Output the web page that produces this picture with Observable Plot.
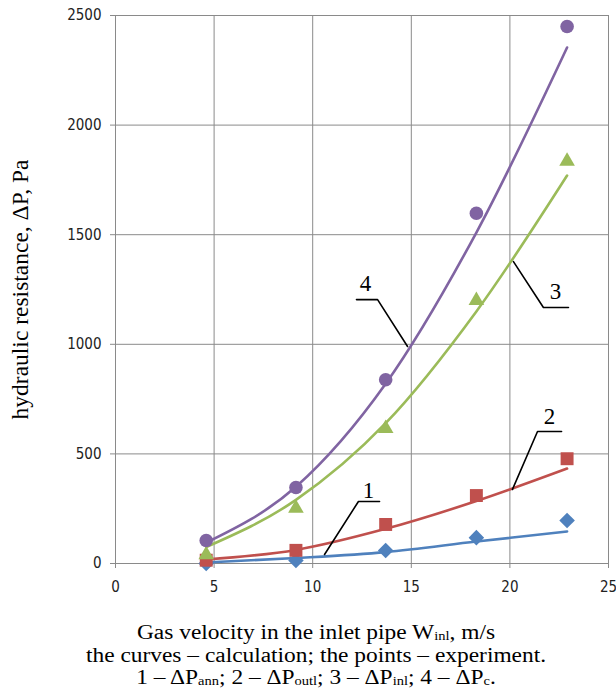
<!DOCTYPE html>
<html>
<head>
<meta charset="utf-8">
<script src="https://cdn.jsdelivr.net/npm/d3@7"></script>
<script src="https://cdn.jsdelivr.net/npm/@observablehq/plot@0.6"></script>
<style>
  body { margin: 0; background: #fff; }
  #chart { width: 616px; }
  .caption {
    font-family: "Liberation Serif", "Times New Roman", serif;
    font-size: 20px;
    line-height: 23px;
    text-align: center;
    color: #000;
    width: 616px;
    margin-top: 16px;
    padding-left: 16px;
    box-sizing: border-box;
  }
  .caption div { height: 22.5px; white-space: nowrap; transform: scaleX(1.17); transform-origin: 50% 50%; }
  .caption sub { font-size: 0.62em; vertical-align: -0.1em; line-height: 0; }
  .ticklab text { font-stretch: condensed; }
</style>
</head>
<body>
<div id="chart"></div>
<div class="caption">
  <div>Gas velocity in the inlet pipe W<sub>inl</sub>, m/s</div>
  <div>the curves – calculation; the points – experiment.</div>
  <div>1 – ΔP<sub>ann</sub>; 2 – ΔP<sub>outl</sub>; 3 – ΔP<sub>inl</sub>; 4 – ΔP<sub>c</sub>.</div>
</div>
<script>
// ---- data ----
const xTicks = [0, 5, 10, 15, 20, 25];
const yTicks = [0, 500, 1000, 1500, 2000, 2500];
const velocity = [4.6, 9.15, 13.7, 18.3, 22.9];

// calculation curves
const calcAnn  = [5, 25, 52, 100, 146];
const calcOutl = [18, 62, 158, 285, 433];
const calcInl  = [75, 290, 640, 1150, 1770];
const calcC    = [95, 350, 820, 1510, 2354];

// experimental points
const expAnn  = [0, 14, 59, 118, 196];
const expOutl = [15, 60, 178, 310, 478];
const expInl  = [40, 252, 616, 1200, 1835];
const expC    = [105, 347, 838, 1598, 2450];

// curve number labels and their leader lines
const labelText = ["1", "2", "3", "4"];
const labelX = [12.83, 22.01, 22.31, 12.68];
const labelY = [333, 670, 1241, 1275];
const leader1 = [[10.60, 41], [12.32, 283], [13.39, 283]];
const leader2 = [[20.13, 338], [21.40, 602], [22.62, 602]];
const leader3 = [[20.18, 1377], [21.70, 1168], [22.97, 1168]];
const leader4 = [[14.81, 990], [13.29, 1204], [12.22, 1204]];

const yLabel = "hydraulic resistance, ΔP, Pa";

// ---- build tables ----
const series = [
  {name: "ann",  calc: calcAnn,  exp: expAnn,  color: "#4F81BD", symbol: "diamond2", r: 7},
  {name: "outl", calc: calcOutl, exp: expOutl, color: "#C0504D", symbol: "square", r: 7.3},
  {name: "inl",  calc: calcInl,  exp: expInl,  color: "#9BBB59", symbol: "triangle", r: 5.8},
  {name: "c",    calc: calcC,    exp: expC,    color: "#8064A2", symbol: "circle", r: 6.8}
];
const toRows = (arr, key) => velocity.map((x, i) => ({x, y: arr[i], key}));
const labels = labelText.map((t, i) => ({t, x: labelX[i], y: labelY[i]}));
const leaders = [leader1, leader2, leader3, leader4].flatMap((pts, k) =>
  pts.map(([x, y]) => ({x, y, k})));

const sans = "'DejaVu Sans Condensed', 'Liberation Sans Narrow', 'Arial Narrow', sans-serif";
const serif = "'Liberation Serif', 'Times New Roman', serif";
const gridColor = "#8a8a8a";

const marks = [
  Plot.gridX(xTicks, {stroke: gridColor, strokeOpacity: 1}),
  Plot.gridY(yTicks, {stroke: gridColor, strokeOpacity: 1}),
  Plot.frame({stroke: gridColor}),
  Plot.axisY(yTicks, {tickSize: 5, tickPadding: 9, stroke: gridColor, fill: "#222", label: null,
    tickFormat: d3.format("d"), fontFamily: sans, fontSize: 15, className: "ticklab"}),
  Plot.axisX(xTicks, {tickSize: 5, tickPadding: 13, stroke: gridColor, fill: "#222", label: null,
    tickFormat: d3.format("d"), fontFamily: sans, fontSize: 15, className: "ticklab"}),
  Plot.text([yLabel], {frameAnchor: "left", textAnchor: "middle", dx: -95, rotate: -90,
    fontFamily: serif, fontSize: 23.5, fill: "#000"})
];
for (const s of series) {
  marks.push(Plot.line(toRows(s.calc, s.name), {x: "x", y: "y", stroke: s.color, strokeWidth: 2.6, curve: "monotone-x"}));
}
for (const s of series) {
  marks.push(Plot.dot(toRows(s.exp, s.name), {x: "x", y: "y", symbol: s.symbol, r: s.r, fill: s.color, stroke: "none"}));
}
marks.push(
  Plot.line(leaders, {x: "x", y: "y", z: "k", stroke: "#000", strokeWidth: 1.6}),
  Plot.text(labels, {x: "x", y: "y", text: "t", fontFamily: serif, fontSize: 23, fill: "#000"})
);

const chart = Plot.plot({
  width: 616,
  height: 605,
  marginLeft: 115,
  marginRight: 8,
  marginTop: 15,
  marginBottom: 42,
  x: {domain: [0, 25]},
  y: {domain: [0, 2500]},
  style: {background: "#fff", overflow: "visible"},
  marks
});
document.getElementById("chart").appendChild(chart);
</script>
</body>
</html>
